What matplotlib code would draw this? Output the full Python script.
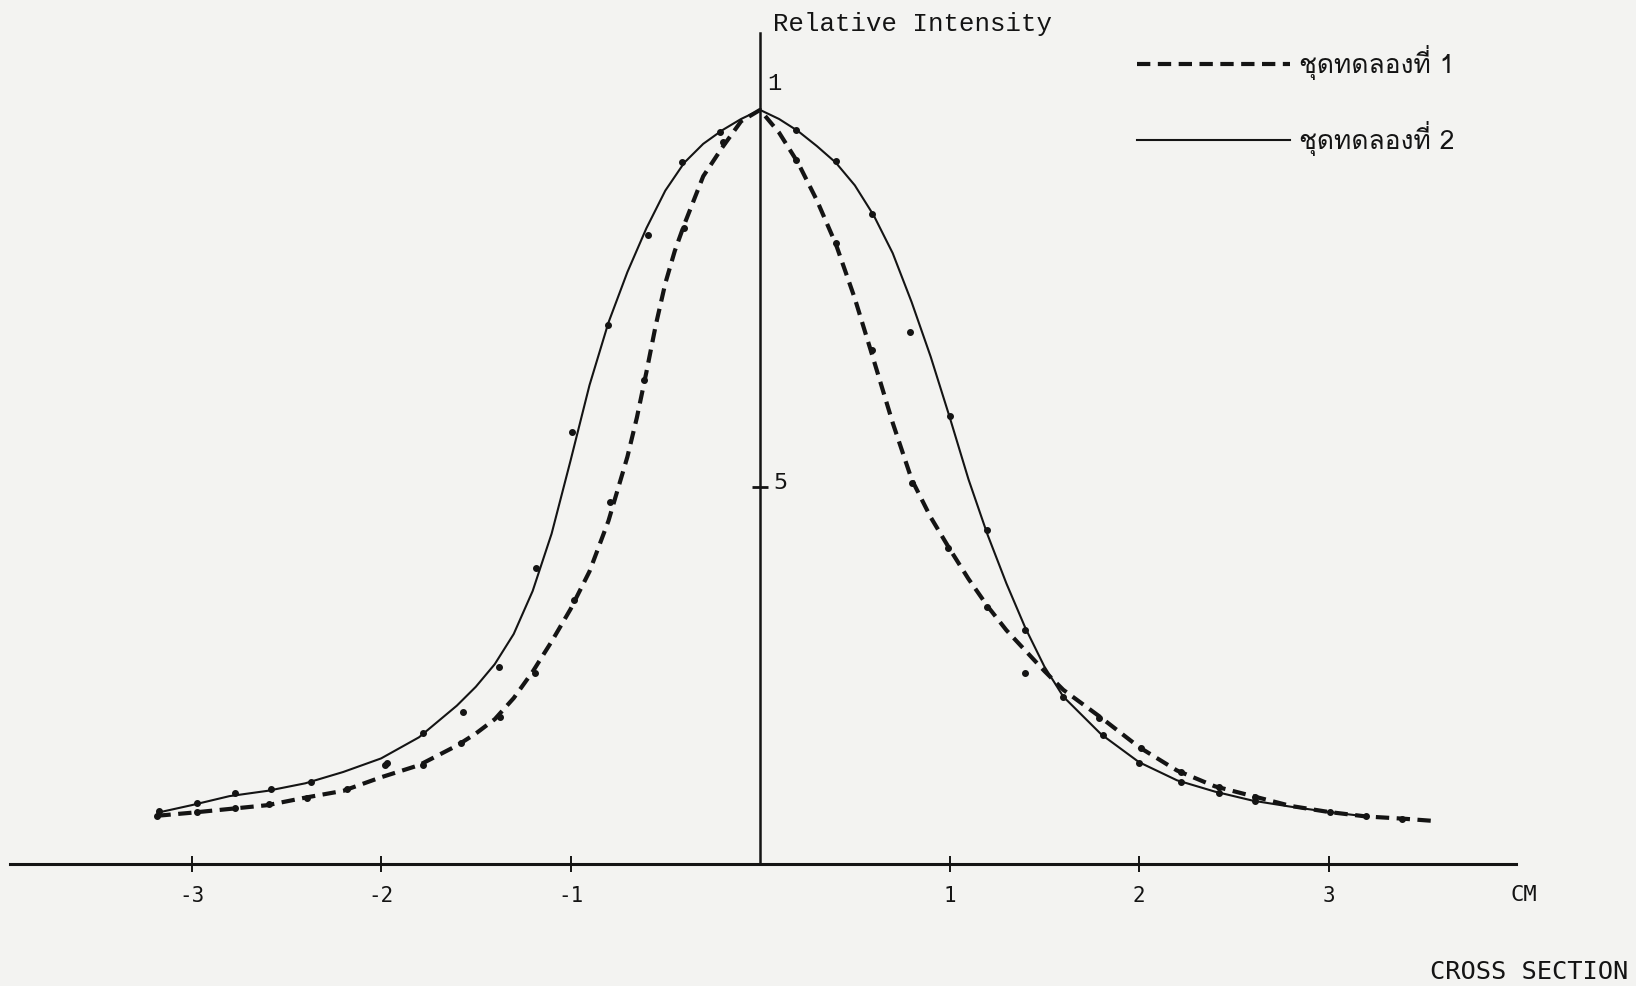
import matplotlib
matplotlib.use("Agg")
import matplotlib.pyplot as plt

x_exp1 = [-3.18, -3.0, -2.8, -2.6, -2.4, -2.2, -2.0, -1.8, -1.6, -1.5, -1.4, -1.3,
          -1.2, -1.1, -1.0, -0.9, -0.8, -0.7, -0.65, -0.6, -0.55, -0.5, -0.45, -0.4, -0.3, -0.2, -0.1, 0.0,
          0.1, 0.2, 0.3, 0.4, 0.5, 0.6, 0.7, 0.8, 0.9, 1.0, 1.1, 1.2, 1.3, 1.4, 1.5,
          1.6, 1.8, 2.0, 2.2, 2.4, 2.6, 2.8, 3.0, 3.2, 3.4, 3.56]
y_exp1 = [0.064, 0.068, 0.073, 0.078, 0.088, 0.097, 0.115, 0.131, 0.157, 0.173, 0.192, 0.220,
          0.255, 0.295, 0.338, 0.388, 0.455, 0.540, 0.592, 0.652, 0.715, 0.770, 0.813, 0.848, 0.912, 0.950, 0.985, 1.0,
          0.970, 0.930, 0.880, 0.822, 0.750, 0.668, 0.585, 0.510, 0.460, 0.418, 0.378, 0.342, 0.310, 0.283, 0.256,
          0.231, 0.194, 0.155, 0.124, 0.103, 0.090, 0.077, 0.069, 0.063, 0.060, 0.057]
# measured points of experiment 1
px_exp1 = [-3.18, -2.97, -2.77, -2.59, -2.39, -2.18, -1.98, -1.78, -1.58, -1.37, -1.19, -0.98,
           -0.79, -0.61, -0.40, -0.195, 0.19, 0.40, 0.59, 0.80, 0.99, 1.20, 1.40, 1.79, 2.01,
           2.22, 2.42, 2.61, 3.01, 3.20, 3.39]
py_exp1 = [0.064, 0.069, 0.074, 0.079, 0.088, 0.099, 0.131, 0.131, 0.160, 0.195, 0.253, 0.350,
           0.480, 0.642, 0.843, 0.958, 0.934, 0.823, 0.682, 0.505, 0.419, 0.341, 0.253, 0.194, 0.154,
           0.122, 0.102, 0.089, 0.069, 0.063, 0.060]

# experiment 2 (solid)
x_exp2 = [-3.18, -3.0, -2.8, -2.6, -2.4, -2.2, -2.0, -1.8, -1.6, -1.5, -1.4, -1.3,
          -1.2, -1.1, -1.0, -0.9, -0.8, -0.7, -0.6, -0.5, -0.4, -0.3, -0.2, -0.1, 0.0,
          0.1, 0.2, 0.3, 0.4, 0.5, 0.6, 0.7, 0.8, 0.9, 1.0, 1.1, 1.2, 1.3, 1.4, 1.5,
          1.6, 1.8, 2.0, 2.2, 2.4, 2.6, 2.8, 3.0, 3.2]
y_exp2 = [0.068, 0.078, 0.090, 0.097, 0.107, 0.122, 0.140, 0.168, 0.210, 0.235, 0.265, 0.305,
          0.362, 0.438, 0.535, 0.635, 0.718, 0.785, 0.843, 0.893, 0.930, 0.955, 0.973, 0.988, 1.0,
          0.988, 0.972, 0.952, 0.930, 0.900, 0.860, 0.810, 0.745, 0.673, 0.593, 0.510, 0.437, 0.372, 0.313, 0.262,
          0.222, 0.172, 0.135, 0.111, 0.096, 0.084, 0.076, 0.069, 0.063]
px_exp2 = [-3.17, -2.97, -2.77, -2.58, -2.37, -1.97, -1.78, -1.57, -1.38, -1.18, -0.99, -0.80,
           -0.59, -0.41, -0.21, 0.19, 0.40, 0.59, 0.79, 1.00, 1.20, 1.40, 1.60, 1.81, 2.00,
           2.22, 2.42, 2.61]
py_exp2 = [0.070, 0.081, 0.094, 0.100, 0.109, 0.134, 0.174, 0.202, 0.261, 0.392, 0.573, 0.715,
           0.834, 0.931, 0.971, 0.973, 0.932, 0.862, 0.706, 0.594, 0.443, 0.310, 0.222, 0.171, 0.134,
           0.109, 0.094, 0.083]

labels = ["ชุดทดลองที่ 1", "ชุดทดลองที่ 2"]
xticks = [-3, -2, -1, 1, 2, 3]

ink = "#141414"
paper = "#f3f3f1"

fig = plt.figure(figsize=(16.36, 9.86), dpi=100, facecolor=paper)
ax = fig.add_axes([10 / 1636, 122 / 986, 1506 / 1636, 831 / 986])
ax.set_facecolor(paper)
ax.set_xlim(-3.958, 3.989)
ax.set_ylim(0, 1.102)

# axes drawn through the origin
for s in ["top", "right"]:
    ax.spines[s].set_visible(False)
ax.spines["left"].set_position(("data", 0))
ax.spines["bottom"].set_position(("data", 0))
for s in ["left", "bottom"]:
    ax.spines[s].set_color(ink)
ax.spines["bottom"].set_linewidth(2.2)
ax.spines["left"].set_linewidth(1.8)

ax.plot(x_exp1, y_exp1, color=ink, lw=3.0, dashes=(3.2, 1.8), label=labels[0])
ax.plot(x_exp2, y_exp2, color=ink, lw=1.5, label=labels[1])
ax.plot(px_exp1, py_exp1, "o", color=ink, ms=4)
ax.plot(px_exp2, py_exp2, "o", color=ink, ms=4)

ax.set_xticks(xticks)
ax.set_xticklabels([str(t) for t in xticks], family="DejaVu Sans Mono", fontsize=15)
ax.tick_params(axis="x", direction="inout", length=11, width=1.4, color=ink, pad=10, labelcolor=ink)
ax.set_yticks([0.5])
ax.set_yticklabels([""])
ax.tick_params(axis="y", direction="inout", length=11, width=2, color=ink)

ax.text(0.069, 0.505, "5", family="DejaVu Sans", fontsize=16, va="center", ha="left", color=ink)
ax.text(0.04, 1.035, "1", family="Liberation Mono", fontsize=17, va="center", ha="left", color=ink)
ax.text(0.069, 1.104, "Relative Intensity", family="Liberation Mono", fontsize=18.5,
        va="baseline", ha="left", color=ink, clip_on=False)
ax.text(3.958, -0.041, "CM", family="DejaVu Sans Mono", fontsize=16, va="center", ha="left",
        color=ink, clip_on=False)
fig.text(1628 / 1636, 1 - 972 / 986, "CROSS SECTION", family="DejaVu Sans Mono", fontsize=18.3,
         va="center", ha="right", color=ink)

leg = ax.legend(loc="upper left", bbox_to_anchor=((1137 - 10) / 1506, 0.985), frameon=False,
                borderpad=0, borderaxespad=0, handlelength=5.8, handletextpad=0.35,
                labelspacing=1.55, prop={"family": ["Loma", "DejaVu Sans"], "size": 19})
for t in leg.get_texts():
    t.set_color(ink)

fig.savefig("out.png", dpi=100, facecolor=paper)
